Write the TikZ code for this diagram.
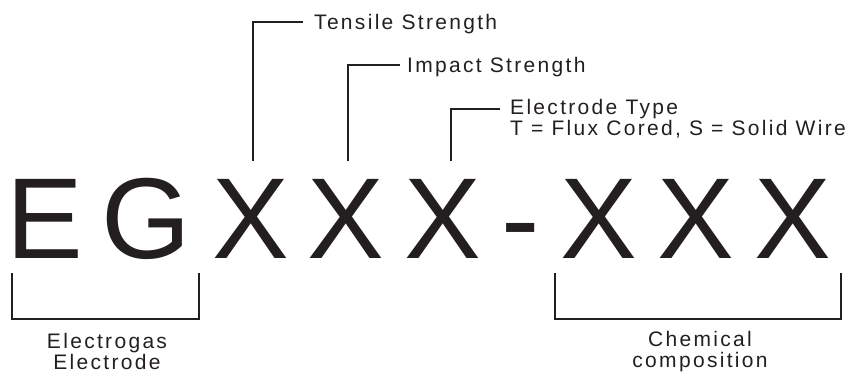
\documentclass[tikz,border=0pt]{standalone}
\usepackage{fontspec}
\setmainfont{Liberation Sans}
\newfontfamily\lblfont[LetterSpace=11]{Liberation Sans}
\definecolor{ink}{HTML}{231F20}
\begin{document}
\begin{tikzpicture}[x=1pt,y=-1pt,
  big/.style={anchor=base,inner sep=0pt,text=ink,font=\fontsize{115}{115}\selectfont},
  lbl/.style={anchor=base west,inner sep=0pt,text=ink,align=left,font=\lblfont\fontsize{21}{17.5}\selectfont},
  sub/.style={anchor=base,inner sep=0pt,text=ink,align=center,font=\lblfont\fontsize{21}{20.5}\selectfont},
  leader/.style={draw=ink,line width=2pt},
  bracket/.style={draw=ink,line width=1.6pt}]
\useasboundingbox (0,0) rectangle (865,375);
% big code
\node[big] (E) at (45,258) {E};
\node[big] (G) at (146,258) {G};
\node[big] (X1) at (251,258) {X};
\node[big] (X2) at (346,258) {X};
\node[big] (X3) at (443,258) {X};
\node[big] (D) at (521,258) {-};
\node[big] (X4) at (599,258) {X};
\node[big] (X5) at (696,258) {X};
\node[big] (X6) at (793,258) {X};
% upper labels
\node[lbl] (ten) at (314,29) {Tensile Strength};
\node[lbl] (imp) at (407,72) {Impact Strength};
\node[lbl] (typ) at (510,135) {Electrode Type\\T = Flux Cored, S = Solid Wire};
\coordinate (l1) at (253,161);
\coordinate (l1e) at (303,22);
\coordinate (l2) at (348,161);
\coordinate (l2e) at (400,65);
\coordinate (l3) at (451,161);
\coordinate (l3e) at (500,109);
\draw[leader] (l1) |- (l1e);
\draw[leader] (l2) |- (l2e);
\draw[leader] (l3) |- (l3e);
% lower labels
\node[sub] (eg) at (107,369) {Electrogas\\Electrode};
\node[sub] (chem) at (700,367) {Chemical\\composition};
\coordinate (b1a) at (12,273);
\coordinate (b1b) at (199,319);
\coordinate (b2a) at (555,273);
\coordinate (b2b) at (841,319);
\draw[bracket] (b1a) |- (b1b) -- (b1b |- b1a);
\draw[bracket] (b2a) |- (b2b) -- (b2b |- b2a);
\end{tikzpicture}
\end{document}
